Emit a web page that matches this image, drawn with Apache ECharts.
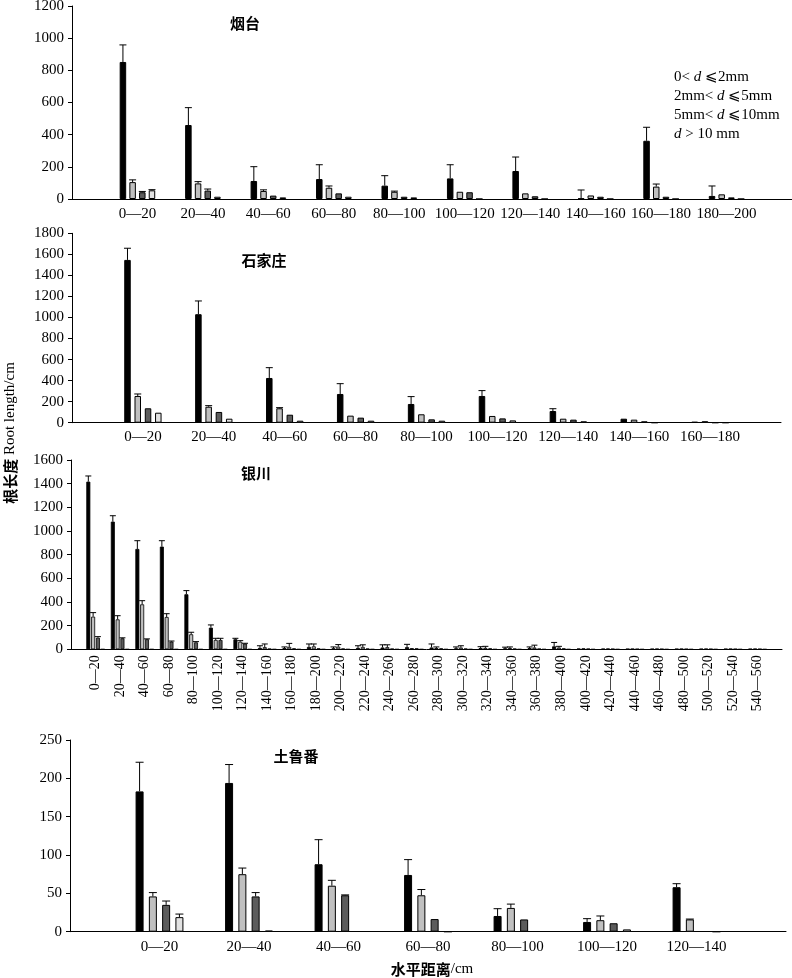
<!DOCTYPE html>
<html><head><meta charset="utf-8">
<script src="https://cdn.jsdelivr.net/npm/echarts@6/dist/echarts.min.js"></script>
<style>html,body{margin:0;padding:0;background:#fff}#c{width:792px;height:978px}</style>
</head><body><div id="c"></div>
<script>
// ---------- DATA ----------
const seriesNames = ['0<d≤2mm', '2mm<d≤5mm', '5mm<d≤10mm', 'd>10mm'];
const legendLabels = ['0< {i|d} ⩽2mm', '2mm< {i|d} ⩽5mm', '5mm< {i|d} ⩽10mm', '{i|d} > 10 mm'];

// 烟台
const ytCategories = ['0—20','20—40','40—60','60—80','80—100','100—120','120—140','140—160','160—180','180—200'];
const ytS1 = [852, 460, 112, 124, 83, 128, 174, 3, 362, 19];
const ytS1Err = [106, 108, 89, 89, 62, 85, 87, 53, 84, 62];
const ytS2 = [105, 97, 50, 70, 45, 45, 35, 22, 77, 29];
const ytS2Err = [14, 11, 7, 11, 4, 0, 0, 0, 16, 0];
const ytS3 = [42, 52, 21, 35, 14, 42, 17, 14, 14, 10];
const ytS3Err = [5, 10, 0, 0, 0, 0, 0, 0, 0, 0];
const ytS4 = [54, 14, 10, 14, 10, 0, 0, 0, 0, 0];
const ytS4Err = [4, 0, 0, 0, 0, 0, 0, 0, 0, 0];
const ytYTicks = [0, 200, 400, 600, 800, 1000, 1200];

// 石家庄
const sjzCategories = ['0—20','20—40','40—60','60—80','80—100','100—120','120—140','140—160','160—180'];
const sjzS1 = [1547, 1031, 425, 273, 178, 254, 111, 38, 8];
const sjzS1Err = [111, 126, 98, 98, 70, 51, 22, 0, 0];
const sjzS2 = [254, 152, 137, 67, 80, 64, 38, 29, 14];
const sjzS2Err = [19, 10, 6, 0, 0, 0, 0, 0, 0];
const sjzS3 = [137, 102, 76, 48, 32, 41, 29, 13, 0];
const sjzS3Err = [0, 0, 0, 0, 0, 0, 0, 0, 0];
const sjzS4 = [95, 38, 19, 19, 19, 22, 13, 0, 0];
const sjzS4Err = [0, 0, 0, 0, 0, 0, 0, 0, 0];
const sjzYTicks = [0, 200, 400, 600, 800, 1000, 1200, 1400, 1600, 1800];

// 银川
const ycCategories = ['0—20','20—40','40—60','60—80','80—100','100—120','120—140','140—160','160—180','180—200',
  '200—220','220—240','240—260','260—280','280—300','300—320','320—340','340—360','360—380','380—400',
  '400—420','420—440','440—460','460—480','480—500','500—520','520—540','540—560'];
const ycS1 = [1417, 1079, 848, 868, 465, 183, 85, 12, 10, 20, 8, 12, 15, 18, 15, 8, 10, 8, 10, 25, 6, 5, 4, 4, 4, 4, 4, 4];
const ycS1Err = [48, 50, 70, 50, 31, 23, 8, 18, 10, 25, 12, 18, 23, 24, 30, 12, 12, 10, 10, 33, 0, 0, 0, 0, 0, 0, 0, 0];
const ycS2 = [276, 253, 380, 273, 127, 79, 64, 18, 20, 25, 22, 20, 18, 10, 10, 15, 12, 10, 15, 15, 8, 6, 5, 5, 5, 5, 5, 5];
const ycS2Err = [34, 31, 31, 28, 17, 14, 9, 27, 30, 20, 18, 18, 20, 0, 10, 15, 13, 10, 20, 10, 0, 0, 0, 0, 0, 0, 0, 0];
const ycS3 = [98, 93, 85, 65, 59, 79, 48, 5, 8, 8, 6, 6, 5, 8, 8, 6, 8, 6, 5, 8, 5, 4, 3, 3, 3, 3, 3, 3];
const ycS3Err = [9, 4, 3, 5, 6, 14, 3, 0, 0, 0, 0, 0, 0, 0, 0, 0, 0, 0, 0, 0, 0, 0, 0, 0, 0, 0, 0, 0];
const ycS4 = [0, 0, 0, 0, 0, 0, 0, 0, 0, 0, 0, 0, 0, 0, 0, 0, 0, 0, 0, 0, 0, 0, 0, 0, 0, 0, 0, 0];
const ycS4Err = [0, 0, 0, 0, 0, 0, 0, 0, 0, 0, 0, 0, 0, 0, 0, 0, 0, 0, 0, 0, 0, 0, 0, 0, 0, 0, 0, 0];
const ycYTicks = [0, 200, 400, 600, 800, 1000, 1200, 1400, 1600];

// 土鲁番
const tlfCategories = ['0—20','20—40','40—60','60—80','80—100','100—120','120—140'];
const tlfS1 = [183, 194, 88, 74, 20.5, 12.7, 58];
const tlfS1Err = [38, 24, 32, 20, 9.5, 4.3, 4.6];
const tlfS2 = [46, 75, 60, 47.5, 31, 15, 16];
const tlfS2Err = [5, 8, 7, 7.5, 5, 5.5, 0.5];
const tlfS3 = [35, 46, 47.5, 16.5, 16, 11, 0.5];
const tlfS3Err = [5, 5, 0.5, 0, 0, 0, 0];
const tlfS4 = [19, 1.5, 0.5, 0, 0.5, 3, 0];
const tlfS4Err = [4, 0, 0, 0, 0, 0, 0];
const tlfYTicks = [0, 50, 100, 150, 200, 250];

// ---------- LAYOUT / STYLE ----------
const SERIF = '"Liberation Serif", "Noto Sans CJK SC", serif';
const CJK = '"Noto Sans CJK SC", sans-serif';
const barColors = ['#000000', '#c0c0c0', '#5c5c5c', '#e2e2e2'];

const panels = [
  { title: '烟台', tx: 245, ty: 23, cats: ytCategories, ticks: ytYTicks,
    vals: [ytS1, ytS2, ytS3, ytS4], errs: [ytS1Err, ytS2Err, ytS3Err, ytS4Err],
    grid: { left: 72, top: 6, width: 720, height: 193 }, barW: 6.5, gap: 0.49, cap: 7, bw: 1, rotate: 0, fs: 15, margin: 8 },
  { title: '石家庄', tx: 264, ty: 260, cats: sjzCategories, ticks: sjzYTicks,
    vals: [sjzS1, sjzS2, sjzS3, sjzS4], errs: [sjzS1Err, sjzS2Err, sjzS3Err, sjzS4Err],
    grid: { left: 72, top: 233.3, width: 709, height: 189.4 }, barW: 6.5, gap: 0.58, cap: 7, bw: 1, rotate: 0, fs: 15, margin: 7 },
  { title: '银川', tx: 256, ty: 473, cats: ycCategories, ticks: ycYTicks,
    vals: [ycS1, ycS2, ycS3, ycS4], errs: [ycS1Err, ycS2Err, ycS3Err, ycS4Err],
    grid: { left: 71, top: 460, width: 711, height: 189.3 }, barW: 4, gap: 0.2, cap: 6, bw: 0.8, rotate: 90, fs: 14, margin: 6 },
  { title: '土鲁番', tx: 296, ty: 756, cats: tlfCategories, ticks: tlfYTicks,
    vals: [tlfS1, tlfS2, tlfS3, tlfS4], errs: [tlfS1Err, tlfS2Err, tlfS3Err, tlfS4Err],
    grid: { left: 70, top: 740, width: 716, height: 191.7 }, barW: 8, gap: 0.66, cap: 8, bw: 1, rotate: 0, fs: 15, margin: 8 }
];

const grids = [], xAxes = [], yAxes = [], series = [], graphics = [];

panels.forEach((p, gi) => {
  grids.push(Object.assign({ outerBoundsMode: 'none', containLabel: false }, p.grid));
  xAxes.push({
    type: 'category', gridIndex: gi, boundaryGap: false,
    data: [''].concat(p.cats, ['']),
    axisLine: { show: true, lineStyle: { color: '#000', width: 1 } },
    axisTick: { show: false },
    splitLine: { show: false },
    axisLabel: { interval: 0, rotate: p.rotate, color: '#000', fontFamily: SERIF, fontSize: p.fs, margin: p.margin }
  });
  const t = p.ticks;
  yAxes.push({
    type: 'value', gridIndex: gi, min: t[0], max: t[t.length - 1], interval: t[1] - t[0],
    axisLine: { show: true, lineStyle: { color: '#000', width: 1 } },
    axisTick: { show: true, inside: false, length: 4, lineStyle: { color: '#000' } },
    splitLine: { show: false },
    axisLabel: { color: '#000', fontFamily: SERIF, fontSize: 15, margin: 8,
      formatter: function (v) { return String(v); } }
  });
  p.vals.forEach((vals, si) => {
    series.push({
      type: 'bar', name: seriesNames[si], xAxisIndex: gi, yAxisIndex: gi,
      barWidth: p.barW, barGap: (p.gap * 100) + '%',
      itemStyle: { color: barColors[si], borderColor: '#000', borderWidth: p.bw },
      data: ['-'].concat(vals, ['-']),
      z: 2
    });
    const errData = [];
    vals.forEach((v, i) => {
      const e = p.errs[si][i];
      if (e > 0) errData.push([i + 1, v, v + e]);
    });
    const stride = p.barW * (1 + p.gap);
    const cap = p.cap;
    series.push({
      type: 'custom', name: seriesNames[si] + ' SD', xAxisIndex: gi, yAxisIndex: gi, silent: true, z: 3,
      renderItem: function (params, api) {
        const c = api.value(0);
        const a = api.coord([c, api.value(1)]);
        const b = api.coord([c, api.value(2)]);
        const x = a[0] + (si - 1.5) * stride;
        return { type: 'group', children: [
          { type: 'line', shape: { x1: x, y1: a[1], x2: x, y2: b[1] }, style: { stroke: '#000', lineWidth: 1 } },
          { type: 'line', shape: { x1: x - cap / 2, y1: b[1], x2: x + cap / 2, y2: b[1] }, style: { stroke: '#000', lineWidth: 1 } }
        ] };
      },
      data: errData
    });
  });
  graphics.push({ type: 'text', x: p.tx, y: p.ty, silent: true,
    style: { text: p.title, fontFamily: CJK, fontSize: 15, fontWeight: 'bold', fill: '#000',
      align: 'center', verticalAlign: 'middle' } });
});

graphics.push({ type: 'text', x: 10, y: 433, rotation: Math.PI / 2, silent: true,
  style: { text: '{c|根长度} Root length/cm', fontFamily: SERIF, fontSize: 15, fill: '#000',
    align: 'center', verticalAlign: 'middle',
    rich: { c: { fontFamily: CJK, fontSize: 15, fontWeight: 'bold', fill: '#000' } } } });
graphics.push({ type: 'text', x: 432, y: 969, silent: true,
  style: { text: '{c|水平距离}/cm', fontFamily: SERIF, fontSize: 15, fill: '#000',
    align: 'center', verticalAlign: 'middle',
    rich: { c: { fontFamily: CJK, fontSize: 15, fontWeight: 'bold', fill: '#000' } } } });

const chart = echarts.init(document.getElementById('c'));
chart.setOption({
  animation: false,
  backgroundColor: '#fff',
  grid: grids, xAxis: xAxes, yAxis: yAxes, series: series,
  legend: {
    data: seriesNames, orient: 'vertical', left: 664, top: 65, itemWidth: 0, itemHeight: 0, itemGap: 4,
    itemStyle: { opacity: 0, borderWidth: 0 }, selectedMode: false,
    formatter: function (name) { return legendLabels[seriesNames.indexOf(name)]; },
    textStyle: { fontFamily: SERIF, fontSize: 15, color: '#000', padding: 0,
      rich: { i: { fontStyle: 'italic', fontFamily: SERIF, fontSize: 15, color: '#000' } } }
  },
  graphic: graphics
});
</script></body></html>
